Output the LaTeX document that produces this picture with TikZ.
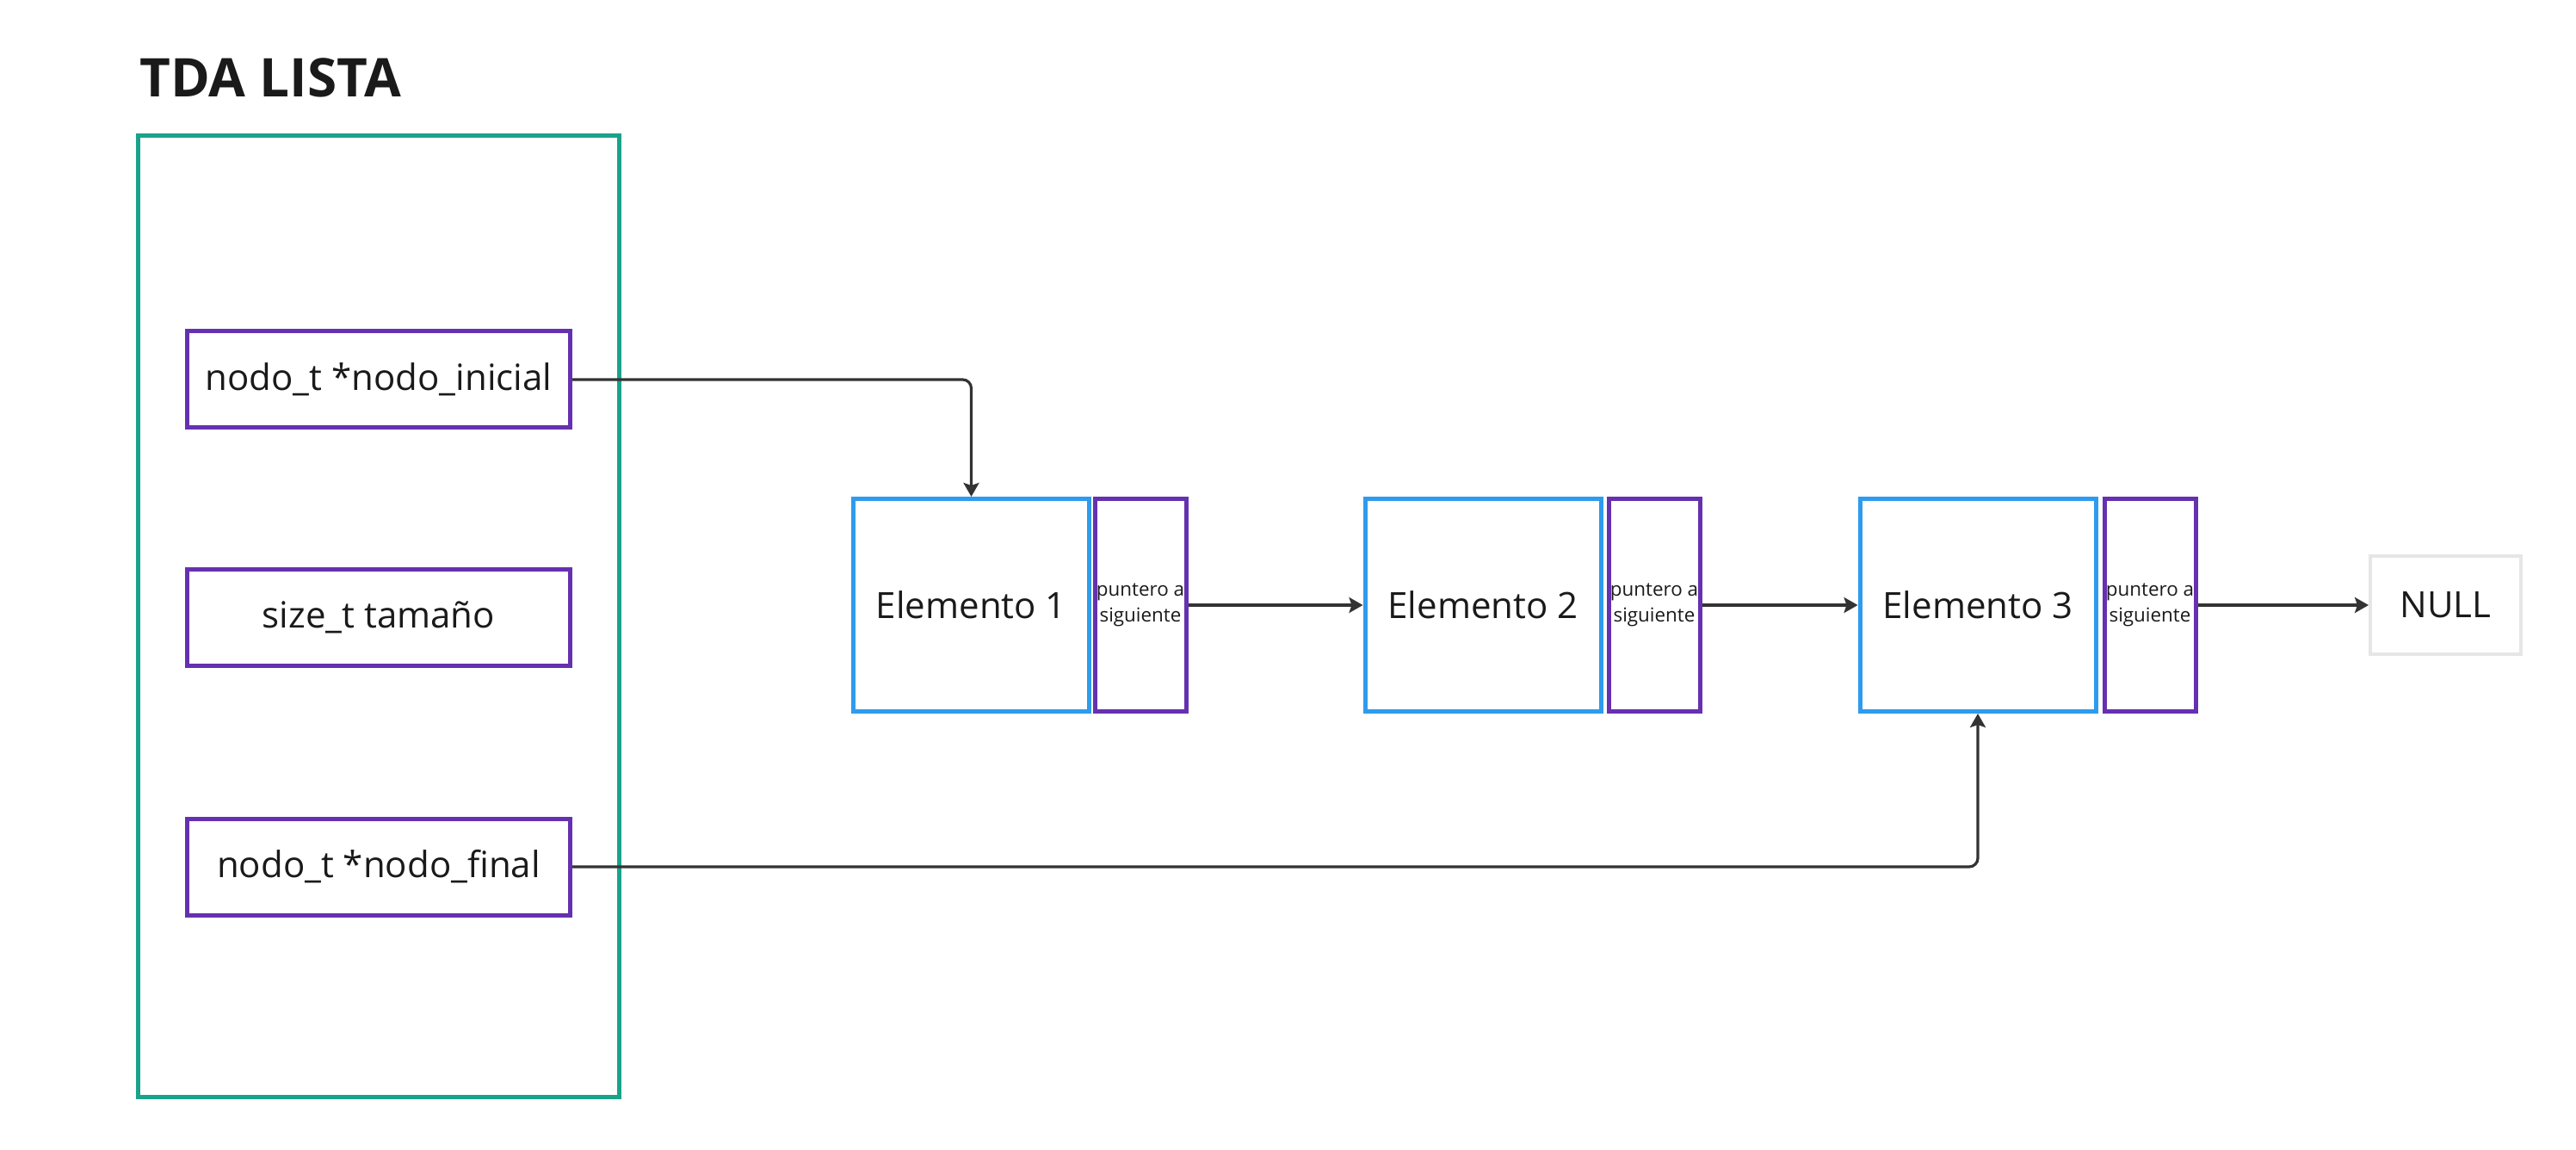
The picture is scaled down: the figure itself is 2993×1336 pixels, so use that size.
\documentclass[tikz,border=0pt]{standalone}
\usepackage{fontspec}
\setmainfont{Open Sans}
\usetikzlibrary{arrows.meta}
\definecolor{teal}{HTML}{19A38A}
\definecolor{purp}{HTML}{6631B0}
\definecolor{blu}{HTML}{2E9BEE}
\definecolor{gry}{HTML}{E6E6E6}
\definecolor{ink}{HTML}{1A1A1A}
\definecolor{conn}{HTML}{333333}
\tikzset{
  field/.style={draw=purp, line width=2.5pt, minimum width=222.5pt, minimum height=56pt, inner sep=0pt, text=ink, font=\fontsize{21}{28}\selectfont},
  elem/.style={draw=blu, line width=2.5pt, minimum width=137pt, minimum height=123.5pt, inner sep=0pt, text=ink, font=\fontsize{21}{28}\selectfont},
  ptr/.style={draw=purp, line width=2.5pt, minimum width=53pt, minimum height=123.5pt, inner sep=0pt, text=ink, align=center, font=\fontsize{11.2}{15}\selectfont},
  nullbox/.style={draw=gry, line width=2pt, minimum width=87.5pt, minimum height=57pt, inner sep=0pt, text=ink, font=\fontsize{21}{28}\selectfont},
  link/.style={draw=conn, line width=1.6pt, rounded corners=5pt, -{Stealth[length=8pt,width=9pt,inset=1.5pt]}}
}
\begin{document}
\begin{tikzpicture}[x=0.5pt,y=-0.5pt]
\useasboundingbox (0,0) rectangle (2993,1336);
\node[anchor=base west, inner sep=0pt, text=ink, font=\fontsize{31}{36}\selectfont\bfseries] (title) at (162,113) {TDA LISTA};
\draw[teal, line width=2.5pt] (160.5,157.5) rectangle (719.5,1274.5);
\node[field] (ini) at (440,441) {nodo\_t *nodo\_inicial};
\node[field] (tam) at (440,717) {size\_t tamaño};
\node[field] (fin) at (440,1007) {nodo\_t *nodo\_final};
\node[elem] (e1) at (1128.5,703) {Elemento 1};
\node[ptr] (p1) at (1325,703) {puntero a\\siguiente};
\node[elem] (e2) at (1723,703) {Elemento 2};
\node[ptr] (p2) at (1922,703) {puntero a\\siguiente};
\node[elem] (e3) at (2298,703) {Elemento 3};
\node[ptr] (p3) at (2498,703) {puntero a\\siguiente};
\node[nullbox] (nul) at (2841.5,703) {NULL};
\draw[link] (ini.east) -| (e1.north);
\draw[link] (fin.east) -| (e3.south);
\draw[link] (p1.east) -- (e2.west);
\draw[link] (p2.east) -- (e3.west);
\draw[link] (p3.east) -- (nul.west);
\end{tikzpicture}
\end{document}
